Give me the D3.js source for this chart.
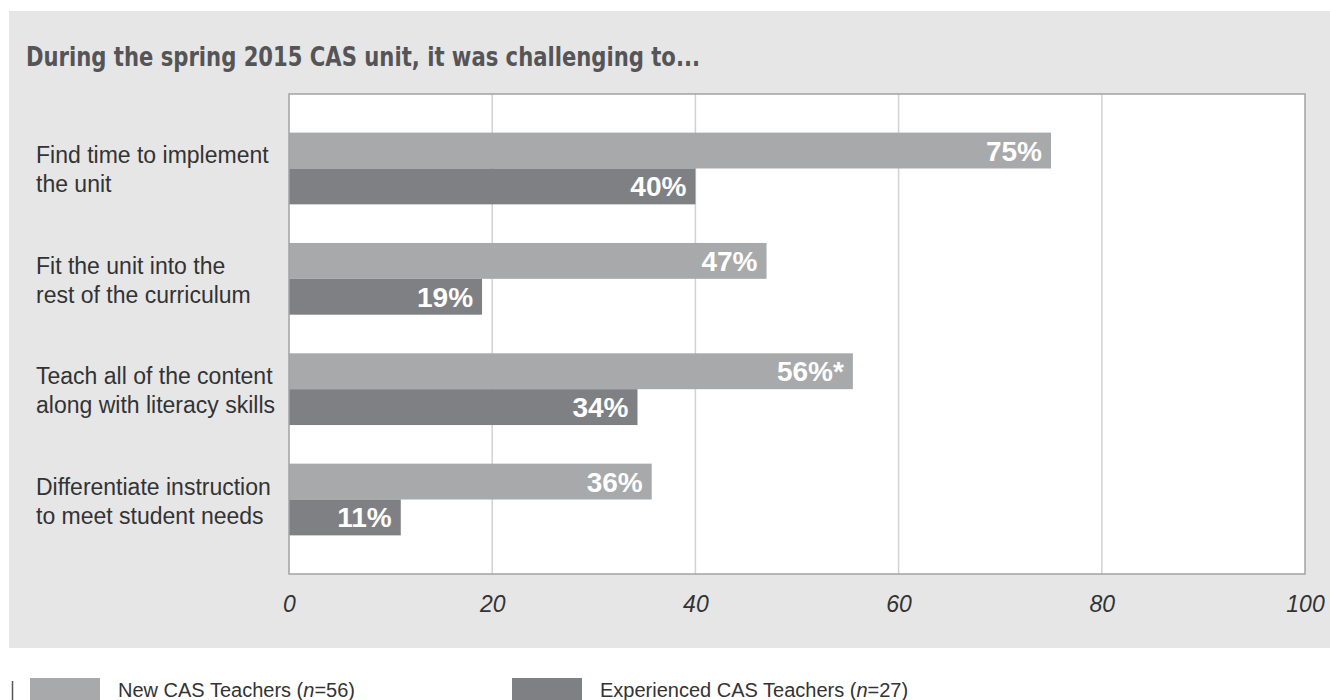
<!DOCTYPE html>
<html>
<head>
<meta charset="utf-8">
<script src="https://cdn.jsdelivr.net/npm/d3@7/dist/d3.min.js"></script>
<style>
	body { margin: 0; background: #ffffff; }
	svg { display: block; }
</style>
</head>
<body>
<script>
var categories = [
	["Find time to implement", "the unit"],
	["Fit the unit into the", "rest of the curriculum"],
	["Teach all of the content", "along with literacy skills"],
	["Differentiate instruction", "to meet student needs"]
];
var newTeachers = [75, 47, 55.5, 35.7];
var expTeachers = [40, 19, 34.3, 11];
var newLabels = ["75%", "47%", "56%*", "36%"];
var expLabels = ["40%", "19%", "34%", "11%"];
var tickValues = [0, 20, 40, 60, 80, 100];
var seriesNames = ["New CAS Teachers", "Experienced CAS Teachers"];
var seriesN = ["56", "27"];

var W = 1330, H = 700;
var plotLeft = 289, plotRight = 1305, plotTop = 94, plotBottom = 574;
var lightGray = "#a7a9ab", darkGray = "#7f8083";
var sans = "'Liberation Sans', Arial, sans-serif";

var svg = d3.select("body")
			.append("svg")
			.attr("width", W)
			.attr("height", H);

// grey panel behind the chart
svg.append("rect")
	.attr("x", 9).attr("y", 11)
	.attr("width", W - 9).attr("height", 637)
	.attr("fill", "#e6e6e7");

svg.append("text")
	.attr("x", 26).attr("y", 66)
	.attr("font-family", "'Liberation Sans Narrow', 'DejaVu Sans Condensed', 'Liberation Sans', sans-serif")
	.attr("font-weight", "bold")
	.attr("font-size", 26)
	.attr("fill", "#555557")
	.attr("textLength", 674)
	.attr("lengthAdjust", "spacingAndGlyphs")
	.text("During the spring 2015 CAS unit, it was challenging to...");

var x = d3.scaleLinear().domain([0, 100]).range([plotLeft, plotRight]);
var y = d3.scaleBand()
			.domain(d3.range(categories.length))
			.range([plotTop, plotBottom])
			.paddingInner(0.35)
			.paddingOuter(0.35);
var sub = d3.scaleBand().domain([0, 1]).range([0, y.bandwidth()]);

svg.append("rect")
	.attr("x", plotLeft).attr("y", plotTop)
	.attr("width", plotRight - plotLeft).attr("height", plotBottom - plotTop)
	.attr("fill", "#ffffff");

svg.selectAll("line.grid")
	.data(tickValues.slice(1, -1))
	.enter()
	.append("line")
	.attr("class", "grid")
	.attr("x1", function(d){ return x(d); })
	.attr("x2", function(d){ return x(d); })
	.attr("y1", plotTop).attr("y2", plotBottom)
	.attr("stroke", "#d2d2d2")
	.attr("stroke-width", 1.5);

// bars, one group per category
var groups = svg.selectAll("g.cat")
				.data(categories)
				.enter()
				.append("g")
				.attr("class", "cat");

groups.append("rect")
	.attr("x", x(0))
	.attr("y", function(d, i){ return y(i) + sub(0); })
	.attr("width", function(d, i){ return x(newTeachers[i]) - x(0); })
	.attr("height", sub.bandwidth())
	.attr("fill", lightGray);

groups.append("rect")
	.attr("x", x(0))
	.attr("y", function(d, i){ return y(i) + sub(1); })
	.attr("width", function(d, i){ return x(expTeachers[i]) - x(0); })
	.attr("height", sub.bandwidth())
	.attr("fill", darkGray);

groups.append("text")
	.attr("x", function(d, i){ return x(newTeachers[i]) - 9; })
	.attr("y", function(d, i){ return y(i) + sub(0) + sub.bandwidth() / 2 + 10; })
	.attr("text-anchor", "end")
	.attr("font-family", sans)
	.attr("font-weight", "bold")
	.attr("font-size", 28)
	.attr("fill", "#ffffff")
	.text(function(d, i){ return newLabels[i]; });

groups.append("text")
	.attr("x", function(d, i){ return x(expTeachers[i]) - 9; })
	.attr("y", function(d, i){ return y(i) + sub(1) + sub.bandwidth() / 2 + 10; })
	.attr("text-anchor", "end")
	.attr("font-family", sans)
	.attr("font-weight", "bold")
	.attr("font-size", 28)
	.attr("fill", "#ffffff")
	.text(function(d, i){ return expLabels[i]; });

// category labels on two lines
var catText = groups.append("text")
	.attr("font-family", sans)
	.attr("font-size", 23)
	.attr("fill", "#333333");
catText.selectAll("tspan")
	.data(function(d, i){ return d.map(function(s){ return {s: s, i: i}; }); })
	.enter()
	.append("tspan")
	.attr("x", 36)
	.attr("y", function(d, j){ return y(d.i) + y.bandwidth() / 2 - 5 + j * 29; })
	.text(function(d){ return d.s; });

svg.append("rect")
	.attr("x", plotLeft).attr("y", plotTop)
	.attr("width", plotRight - plotLeft).attr("height", plotBottom - plotTop)
	.attr("fill", "none")
	.attr("stroke", "#a3a3a5")
	.attr("stroke-width", 1.5);

var axis = d3.axisBottom(x).tickValues(tickValues).tickSize(0).tickPadding(0);
var axisG = svg.append("g")
				.attr("transform", "translate(0," + 596 + ")")
				.call(axis);
axisG.select(".domain").remove();
axisG.selectAll("text")
	.attr("dy", "0.71em")
	.attr("font-family", sans)
	.attr("font-style", "italic")
	.attr("font-size", 23)
	.attr("fill", "#333333");

// legend
svg.append("line")
	.attr("x1", 12.5).attr("x2", 12.5)
	.attr("y1", 681).attr("y2", 700)
	.attr("stroke", "#555555")
	.attr("stroke-width", 1.5);

var legendX = [30, 512];
var legendColors = [lightGray, darkGray];
var leg = svg.selectAll("g.leg")
			.data(seriesNames)
			.enter()
			.append("g")
			.attr("class", "leg")
			.attr("transform", function(d, i){ return "translate(" + legendX[i] + ",678)"; });

leg.append("rect")
	.attr("width", 70).attr("height", 26)
	.attr("fill", function(d, i){ return legendColors[i]; });

var legText = leg.append("text")
	.attr("x", 88).attr("y", 19)
	.attr("font-family", sans)
	.attr("font-size", 20)
	.attr("fill", "#333333");
legText.append("tspan").text(function(d){ return d + " ("; });
legText.append("tspan").attr("font-style", "italic").text("n");
legText.append("tspan").text(function(d, i){ return "=" + seriesN[i] + ")"; });
</script>
</body>
</html>
